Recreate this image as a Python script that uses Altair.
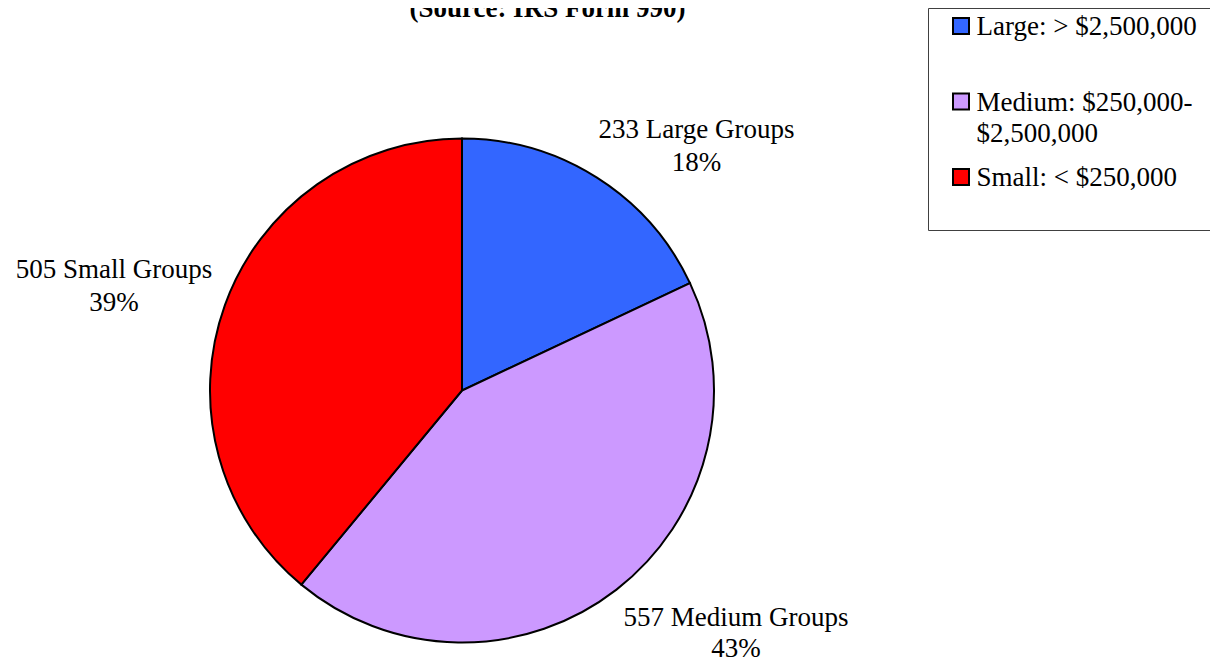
import altair as alt
import pandas as pd

# ---- data ----
categories = ["Large", "Medium", "Small"]
counts = [233, 557, 505]
percents = ["18%", "43%", "39%"]
slice_labels = ["233 Large Groups\n18%", "557 Medium Groups\n43%", "505 Small Groups\n39%"]
legend_labels = ["Large: > $2,500,000", "Medium: $250,000-\n$2,500,000", "Small: < $250,000"]
colors = ["#3366FF", "#CC99FF", "#FF0000"]
title_text = ["(Source: IRS Form 990)"]

FONT = "Liberation Serif"

df = pd.DataFrame({
    "cat": categories,
    "count": counts,
    "pct": percents,
    "label": slice_labels,
    "legend": legend_labels,
    "order": list(range(len(categories))),
})

color = alt.Color("cat:N", scale=alt.Scale(domain=categories, range=colors), legend=None)
CX, CY, R = 454, 382.5, 252

base = alt.Chart(df)

pie = base.mark_arc(radius=R, stroke="black", strokeWidth=2).encode(
    theta=alt.Theta("count:Q", stack=True),
    order=alt.Order("order:Q"),
    color=color,
    x=alt.value(CX),
    y=alt.value(CY),
)

stacked = base.transform_window(
    cum="sum(count)", sort=[alt.SortField("order")]
).transform_calculate(mid="datum.cum - datum.count / 2")


def slice_label(cat, dx, dy, lh=33):
    return stacked.transform_filter(alt.datum.cat == cat).mark_text(
        radius=253, dx=dx, dy=dy, align="center", baseline="alphabetic",
        lineBreak="\n", font=FONT, fontSize=27, lineHeight=lh, color="black",
    ).encode(
        theta=alt.Theta("mid:Q", stack=None),
        text="label:N",
        x=alt.value(CX),
        y=alt.value(CY),
    )


labels = [
    slice_label("Large", 99, -39),
    slice_label("Medium", 119, 36, 31),
    slice_label("Small", -110, -27),
]

# ---- legend (box open on the right, as in the reference) ----
one = alt.Chart(pd.DataFrame({"k": [0]}))
box_top = one.mark_rule(color="#404040", strokeWidth=1).encode(
    x=alt.value(920.5), x2=alt.value(1230), y=alt.value(0.5))
box_bottom = one.mark_rule(color="#404040", strokeWidth=1).encode(
    x=alt.value(920.5), x2=alt.value(1230), y=alt.value(222.5))
box_left = one.mark_rule(color="#404040", strokeWidth=1).encode(
    x=alt.value(920.5), y=alt.value(0.5), y2=alt.value(222.5))

leg_y = alt.Y("cat:N", scale=alt.Scale(type="point", domain=categories, range=[18, 169], padding=0), axis=None)

legend_sym = base.mark_square(size=256, stroke="black", strokeWidth=2, opacity=1).encode(
    x=alt.value(953), y=leg_y, color=color
)

legend_txt = base.mark_text(
    align="left", baseline="alphabetic", dy=9, lineBreak="\n",
    font=FONT, fontSize=27, lineHeight=31, color="black",
).encode(x=alt.value(968.5), y=leg_y, text="legend:N")

title = alt.Chart(pd.DataFrame({"t": title_text})).mark_text(
    align="center", baseline="alphabetic", font=FONT, fontSize=27,
    fontWeight="bold", color="black",
).encode(x=alt.value(539.5), y=alt.value(9), text="t:N")

chart = alt.layer(
    pie, *labels, box_top, box_bottom, box_left, legend_sym, legend_txt, title
).properties(
    width=1202, height=653,
    autosize=alt.AutoSizeParams(type="none"),
    padding=0,
    background="white",
).configure_view(stroke=None)

chart.save("out.html", embed_options={"renderer": "svg", "actions": False})
